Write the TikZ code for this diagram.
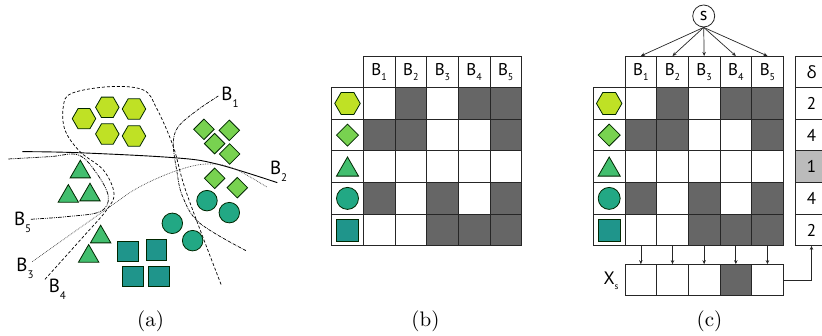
\documentclass[tikz,border=0pt]{standalone}
\usepackage{fontspec}
\newfontfamily\lf{PT Sans}
\newfontfamily\grf{Open Sans}
\usetikzlibrary{shapes.geometric,arrows.meta}
\definecolor{hexc}{HTML}{BFE125}
\definecolor{diac}{HTML}{78D250}
\definecolor{tric}{HTML}{42BE6E}
\definecolor{circ}{HTML}{22A884}
\definecolor{squc}{HTML}{1F958B}
\definecolor{darkc}{HTML}{666666}
\definecolor{midc}{HTML}{BBBBBB}
\newcommand{\Bl}[1]{{\lf B\raisebox{-5pt}{\fontsize{10}{10}\selectfont #1}}}
\newcommand{\Ba}[1]{{\lf B\raisebox{-7pt}{\fontsize{11}{11}\selectfont #1}}}
\tikzset{
  icon/.style={draw=black!85!green,line width=.8pt,inner sep=0pt,outer sep=0pt},
  hexn/.style={icon,fill=hexc,regular polygon,regular polygon sides=6,minimum size=#1},
  dian/.style={icon,fill=diac,diamond,aspect=1,minimum size=#1},
  trin/.style={icon,fill=tric,regular polygon,regular polygon sides=3,minimum size=#1},
  cirn/.style={icon,fill=circ,circle,minimum size=#1},
  squn/.style={icon,fill=squc,rectangle,minimum size=#1},
  cellbox/.style={draw=black!85,line width=.8pt,rectangle,minimum width=31.7pt,minimum height=31.7pt,inner sep=0pt,outer sep=0pt,font=\lf\fontsize{17}{17}\selectfont},
  lightcell/.style={cellbox,fill=white},
  darkcell/.style={cellbox,fill=darkc},
  lab/.style={inner sep=0pt,font=\fontsize{19}{19}\selectfont},
  capt/.style={inner sep=0pt},
  arr/.style={draw=black!85,line width=.7pt,-{Stealth[length=4pt,width=3.5pt]}},
  bound/.style={black,line width=.7pt},
}
\newcommand{\tbl}[2]{%
  \foreach \lbl [count=\c] in {1,2,3,4,5}
    \node[lightcell] (#1h\c) at ({#2+31.65*\c},71.8) {\Bl{\lbl}};
  \foreach \rr [count=\r] in {{0,1,0,1,1},{1,1,0,0,1},{0,0,0,0,0},{1,0,1,0,1},{0,0,1,1,1}}{
    \node[lightcell] (#1l\r) at ({#2},{71.8+31.65*\r}) {};
    \foreach \v [count=\c] in \rr {
      \ifnum\v=1 \node[darkcell] (#1c\r\c) at ({#2+31.65*\c},{71.8+31.65*\r}) {};
      \else \node[lightcell] (#1c\r\c) at ({#2+31.65*\c},{71.8+31.65*\r}) {};\fi
    }
  }
  \node[hexn=25.5pt] (#1i1) at (#1l1) {};
  \node[dian=22pt] (#1i2) at (#1l2) {};
  \node[trin=25.5pt] (#1i3) at ([yshift=-3pt]#1l3.center) {};
  \node[cirn=22pt] (#1i4) at (#1l4) {};
  \node[squn=22pt] (#1i5) at (#1l5) {};
}
\begin{document}
\begin{tikzpicture}[x=1pt,y=-1pt]
\useasboundingbox (0,0) rectangle (822,336);
% (a) boundaries
\begin{scope}[x=.3333pt,y=-.3333pt,yshift=-40pt]
\draw[bound,densely dashdotted] plot[smooth,tension=.6] coordinates {(655,168) (590,212) (535,260) (520,310) (530,390) (548,470) (600,550) (738,632)};
\draw[bound,line width=.9pt] plot[smooth,tension=.6] coordinates {(67,335) (230,338) (520,353) (650,372) (832,428)};
\draw[bound,densely dotted,black!75] plot[smooth,tension=.6] coordinates {(97,665) (330,500) (420,440) (530,392) (620,372) (700,385) (802,442)};
\draw[bound,densely dashed] plot[smooth,tension=.6] coordinates {(135,718) (250,590) (320,510) (342,460) (310,390) (240,335) (195,270) (190,200) (215,160) (330,140) (430,150) (470,205) (520,320) (560,460) (665,738)};
\draw[bound,dash pattern=on 4pt off 1pt on 1pt off 1pt on 1pt off 1pt] plot[smooth,tension=.6] coordinates {(25,357) (150,350) (235,345) (290,400) (325,470) (300,515) (200,530) (90,538)};
\foreach \p [count=\i] in {(252,236),(322,202),(402,207),(322,282),(402,288)}
  \node[hexn=23.5pt] (hx\i) at \p {};
\foreach \p [count=\i] in {(612,268),(688,271),(644,311),(689,342),(644,415),(712,443)}
  \node[dian=20.5pt] (dm\i) at \p {};
\foreach \p [count=\i] in {(241,396),(205,469),(270,465),(302,591),(266,649)}
  \node[trin=23.5pt] (tr\i) at \p {};
\foreach \p [count=\i] in {(621,482),(688,518),(517,550),(578,602)}
  \node[cirn=20.5pt] (ci\i) at \p {};
\foreach \p [count=\i] in {(384,635),(469,630),(398,709),(476,709)}
  \node[squn=20.5pt] (sq\i) at \p {};
\node[lab] (b1) at (690,172) {\Ba{1}};
\node[lab] (b2) at (836,394) {\Ba{2}};
\node[lab] (b3) at (75,685) {\Ba{3}};
\node[lab] (b4) at (172,747) {\Ba{4}};
\node[lab] (b5) at (68,547) {\Ba{5}};
\end{scope}
\node[capt] (capa) at (150.5,321.5) {\scalebox{2.1}{(a)}};
% (b)
\tbl{b}{347.5}
\node[capt] (capb) at (425.5,321.5) {\scalebox{2.1}{(b)}};
% (c)
\tbl{k}{609.2}
\node[capt] (capc) at (709.5,321.5) {\scalebox{2.1}{(c)}};
\node[draw=black!85,line width=.8pt,circle,minimum size=22pt,inner sep=0pt,font=\lf\fontsize{18}{18}\selectfont] (s) at (703.7,16) {s};
\foreach \c in {1,...,5} \draw[arr] (s.south) -- (kh\c.north);
% delta column
\foreach \t/\f/\y [count=\i] in {{\grf δ}/white/71.8,2/white/103.45,4/white/135.1,1/midc/166.75,4/white/198.4,2/white/230.05}
  \node[cellbox,fill=\f] (d\i) at (811.5,\y) {\t};
% X_s row
\node[inner sep=0pt,font=\lf\fontsize{18}{18}\selectfont] (xs) at (611,281) {X\raisebox{-5pt}{\fontsize{9}{9}\selectfont s}};
\foreach \v [count=\c] in {0,0,0,1,0} {
  \ifnum\v=1 \node[darkcell] (x\c) at ({609.2+31.65*\c},280) {};
  \else \node[lightcell] (x\c) at ({609.2+31.65*\c},280) {};\fi
  \draw[arr] (kc5\c.south) -- (x\c.north);
}
\draw[arr] (x5.east) -| (d6.south);
\end{tikzpicture}
\end{document}
